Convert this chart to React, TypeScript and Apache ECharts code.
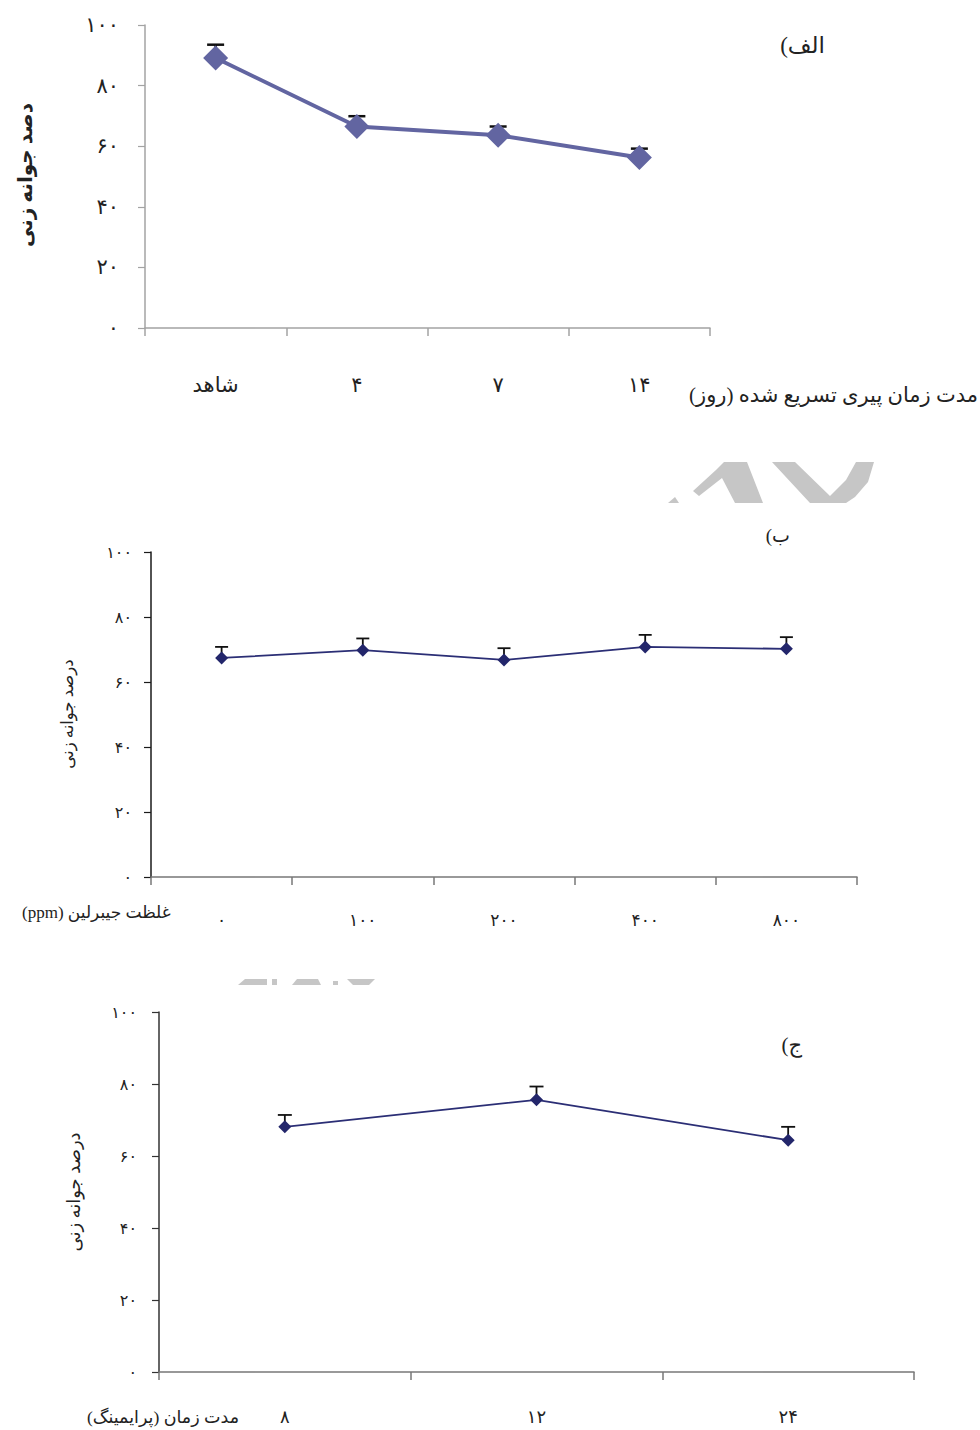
import React, { useEffect, useRef } from "react";
import * as echarts from "echarts";

// Germination percentage under three treatments (three stacked panels)
const yTickLabels = ["۰", "۲۰", "۴۰", "۶۰", "۸۰", "۱۰۰"];

// (الف) accelerated ageing duration
const agingDays = ["شاهد", "۴", "۷", "۱۴"];
const agingGermination = [89.1, 66.5, 63.6, 56.3];
const agingError = [4.4, 3.4, 2.9, 2.9];

// (ب) gibberellin concentration
const gibberellinPpm = ["۰", "۱۰۰", "۲۰۰", "۴۰۰", "۸۰۰"];
const gibberellinGermination = [67.4, 69.8, 66.8, 70.8, 70.2];
const gibberellinError = [3.4, 3.6, 3.6, 3.7, 3.6];

// (ج) priming duration
const primingHours = ["۸", "۱۲", "۲۴"];
const primingGermination = [68.1, 75.6, 64.4];
const primingError = [3.3, 3.7, 3.7];

// Right-to-left embedding so parentheses and Latin runs lay out as in Persian text
const rtl = (s: string) => "\u202B" + s + "\u202C";

const FONT = "'Liberation Serif', 'DejaVu Sans', serif";
const TEXT = "#222";
const WM = "#c6c6c6";

function errorSeries(
  gridIndex: number,
  values: number[],
  errors: number[],
  capWidth: number,
  lineWidth: number
) {
  return {
    type: "custom",
    xAxisIndex: gridIndex,
    yAxisIndex: gridIndex,
    z: 1,
    silent: true,
    data: values.map((v, i) => [i, v, errors[i]]),
    renderItem: (_params: any, api: any) => {
      const idx = api.value(0);
      const v = api.value(1);
      const e = api.value(2);
      const base = api.coord([idx, v]);
      const top = api.coord([idx, v + e]);
      const style = { stroke: "#111", lineWidth };
      return {
        type: "group",
        children: [
          {
            type: "line",
            shape: { x1: base[0], y1: base[1], x2: top[0], y2: top[1] },
            style,
          },
          {
            type: "line",
            shape: {
              x1: top[0] - capWidth / 2,
              y1: top[1],
              x2: top[0] + capWidth / 2,
              y2: top[1],
            },
            style,
          },
        ],
      };
    },
  };
}

function xAxisFor(
  gridIndex: number,
  data: string[],
  lineColor: string,
  fontSize: number,
  margin: number
) {
  return {
    type: "category",
    gridIndex,
    data,
    boundaryGap: true,
    axisLine: { show: true, lineStyle: { color: lineColor, width: 1.5 } },
    axisTick: { show: true, length: 8, lineStyle: { color: lineColor, width: 1.5 } },
    axisLabel: { margin, fontSize, color: TEXT, fontFamily: FONT },
    splitLine: { show: false },
  };
}

function yAxisFor(
  gridIndex: number,
  lineColor: string,
  fontSize: number,
  margin: number
) {
  return {
    type: "value",
    gridIndex,
    min: 0,
    max: 100,
    interval: 20,
    axisLine: { show: true, lineStyle: { color: lineColor, width: 1.5 } },
    axisTick: { show: true, length: 7, lineStyle: { color: lineColor, width: 1.2 } },
    axisLabel: {
      margin,
      fontSize,
      color: TEXT,
      fontFamily: FONT,
      formatter: (v: number) => yTickLabels[Math.round(v / 20)],
    },
    splitLine: { show: false },
  };
}

function label(
  text: string,
  x: number,
  y: number,
  fontSize: number,
  align: string,
  extra: any = {}
) {
  return {
    type: "text",
    x,
    y,
    silent: true,
    ...extra,
    style: {
      text: rtl(text),
      fontSize,
      fontFamily: FONT,
      fill: TEXT,
      align,
      verticalAlign: "middle",
      ...(extra.style || {}),
    },
  };
}

export default function App() {
  const ref = useRef<HTMLDivElement>(null);

  useEffect(() => {
    document.body.style.margin = "0";
    const chart = echarts.init(ref.current!, null, { renderer: "svg" });

    chart.setOption({
      animation: false,
      backgroundColor: "#ffffff",
      grid: [
        { left: 145, top: 25, width: 565, height: 303 },
        { left: 151, top: 552, width: 706, height: 325 },
        { left: 159, top: 1012, width: 755, height: 360 },
      ],
      xAxis: [
        xAxisFor(0, agingDays, "#a3a3a3", 21, 46),
        xAxisFor(1, gibberellinPpm, "#777777", 17, 35),
        xAxisFor(2, primingHours, "#777777", 18, 36),
      ],
      yAxis: [
        yAxisFor(0, "#a3a3a3", 21, 26),
        yAxisFor(1, "#1a1a1a", 16, 19),
        yAxisFor(2, "#333333", 16, 22),
      ],
      series: [
        errorSeries(0, agingGermination, agingError, 17, 2.5),
        {
          type: "line",
          xAxisIndex: 0,
          yAxisIndex: 0,
          z: 3,
          data: agingGermination,
          symbol: "diamond",
          symbolSize: 25,
          lineStyle: { color: "#6265a1", width: 4 },
          itemStyle: { color: "#6265a1" },
        },
        errorSeries(1, gibberellinGermination, gibberellinError, 13, 1.8),
        {
          type: "line",
          xAxisIndex: 1,
          yAxisIndex: 1,
          z: 3,
          data: gibberellinGermination,
          symbol: "diamond",
          symbolSize: 13,
          lineStyle: { color: "#2b2e75", width: 1.8 },
          itemStyle: { color: "#23266b" },
        },
        errorSeries(2, primingGermination, primingError, 14, 1.8),
        {
          type: "line",
          xAxisIndex: 2,
          yAxisIndex: 2,
          z: 3,
          data: primingGermination,
          symbol: "diamond",
          symbolSize: 13,
          lineStyle: { color: "#2b2e75", width: 1.8 },
          itemStyle: { color: "#23266b" },
        },
      ],
      graphic: [
        // panel letters
        label("الف)", 825, 45, 23, "right"),
        label("ب)", 790, 535, 19, "right"),
        label("ج)", 802, 1045, 21, "right"),
        // axis titles
        label("مدت زمان پیری تسریع شده (روز)", 978, 395, 21, "right"),
        label("غلظت جیبرلین (ppm)", 22, 912, 17, "left"),
        label("مدت زمان (پرایمینگ)", 87, 1417, 17.5, "left"),
        label("دصد جوانه زنی", 25, 175, 20, "center", {
          rotation: Math.PI / 2,
          style: { fontWeight: "bold" },
        }),
        label("درصد جوانه زنی", 67, 714, 16.5, "center", {
          rotation: Math.PI / 2,
        }),
        label("درصد جوانه زنی", 74, 1192, 18, "center", {
          rotation: Math.PI / 2,
        }),
        // cropped watermark fragments between the panels
        {
          type: "polygon",
          silent: true,
          shape: { points: [[668, 503], [675, 497], [679, 503]] },
          style: { fill: WM },
        },
        {
          type: "polygon",
          silent: true,
          shape: {
            points: [
              [724, 462], [747, 462], [763, 503], [735, 503],
              [722, 478], [699, 496], [693, 491], [716, 470],
            ],
          },
          style: { fill: WM },
        },
        {
          type: "polygon",
          silent: true,
          shape: {
            points: [
              [772, 462], [795, 462], [830, 496], [846, 480],
              [856, 462], [874, 462], [868, 482], [855, 497],
              [846, 503], [810, 503],
            ],
          },
          style: { fill: WM },
        },
        {
          type: "polygon",
          silent: true,
          shape: { points: [[245, 979], [267, 979], [267, 985], [238, 985]] },
          style: { fill: WM },
        },
        {
          type: "rect",
          silent: true,
          shape: { x: 272, y: 979, width: 5, height: 6 },
          style: { fill: WM },
        },
        {
          type: "polygon",
          silent: true,
          shape: { points: [[297, 979], [318, 979], [321, 985], [292, 985]] },
          style: { fill: WM },
        },
        {
          type: "rect",
          silent: true,
          shape: { x: 333, y: 981, width: 5, height: 4 },
          style: { fill: WM },
        },
        {
          type: "polygon",
          silent: true,
          shape: { points: [[347, 979], [375, 979], [369, 985], [353, 985]] },
          style: { fill: WM },
        },
      ],
    });

    return () => chart.dispose();
  }, []);

  return (
    <div
      ref={ref}
      style={{ position: "absolute", left: 0, top: 0, width: 980, height: 1430 }}
    />
  );
}
